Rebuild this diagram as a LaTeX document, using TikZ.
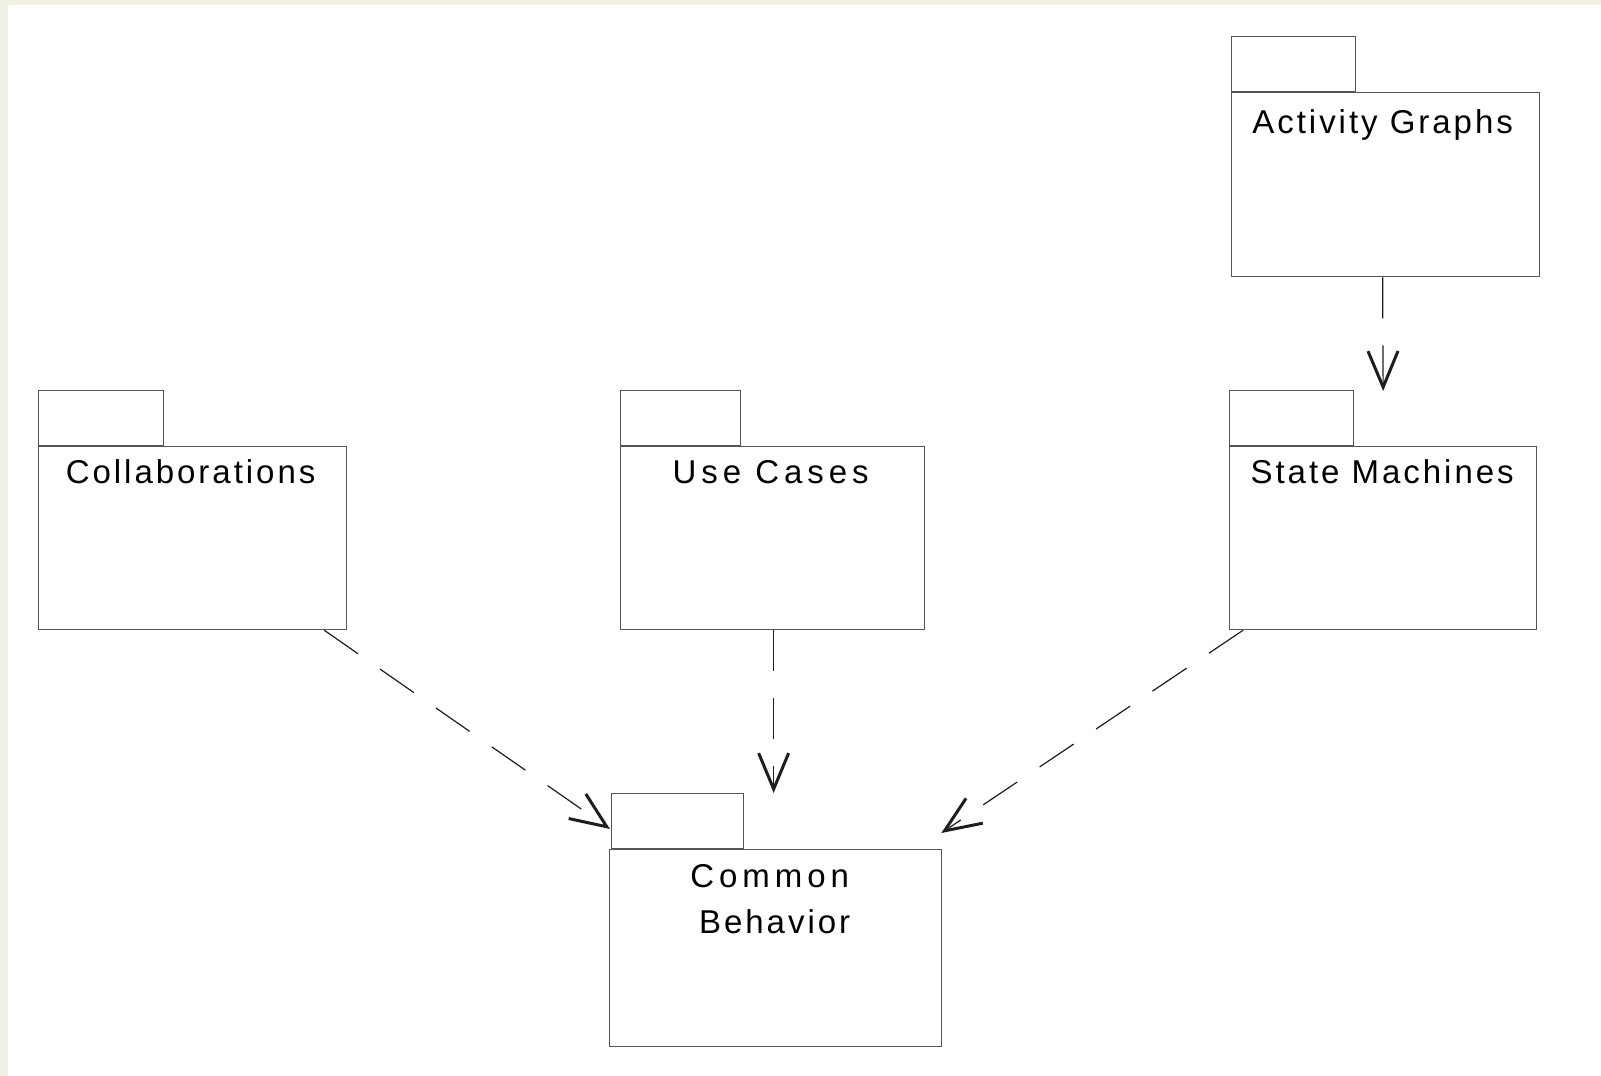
\documentclass[tikz,border=0pt]{standalone}
\usepackage{fontspec}
\setmainfont{Liberation Sans}
\usetikzlibrary{arrows.meta,calc}

\definecolor{pagebg}{RGB}{240,240,228}
\definecolor{boxline}{RGB}{85,85,85}
\definecolor{depline}{RGB}{30,30,30}

\tikzset{
  pkgbody/.style={draw=boxline, line width=1.3pt, fill=white, rectangle,
    anchor=north west, inner sep=0pt, minimum height=183pt},
  pkgtab/.style={draw=boxline, line width=1.3pt, fill=white, rectangle,
    anchor=south west, inner sep=0pt, minimum height=55pt},
  pkglabel/.style={anchor=base, inner sep=0pt,
    font=\fontsize{33}{46}\selectfont\addfontfeature{LetterSpace=9}},
  widelabel/.style={pkglabel,
    font=\fontsize{33}{46}\selectfont\addfontfeature{LetterSpace=15}},
  dependency/.style={draw=depline, line width=1.2pt,
    dash pattern=on 41pt off 27pt,
    -{Straight Barb[length=36pt,width=30pt,line width=3pt]}}
}

\begin{document}
\begin{tikzpicture}[x=1pt,y=-1pt]
  \useasboundingbox (0,0) rectangle (1601,1076);
  \fill[pagebg] (0,0) rectangle (1601,1076);
  \fill[white] (8,5) rectangle (1601,1076);

  % Package bodies
  \node[pkgbody, minimum width=308pt, minimum height=184pt] (act) at (1231,92) {};
  \node[pkgbody, minimum width=307pt] (sm)  at (1229,446) {};
  \node[pkgbody, minimum width=308pt] (col) at (38,446) {};
  \node[pkgbody, minimum width=304pt] (uc)  at (620,446) {};
  \node[pkgbody, minimum width=332pt, minimum height=197pt] (cb) at (609,849) {};

  % Package tabs
  \node[pkgtab, minimum width=124pt] (actTab) at (act.north west) {};
  \node[pkgtab, minimum width=124pt] (smTab)  at (sm.north west) {};
  \node[pkgtab, minimum width=125pt] (colTab) at (col.north west) {};
  \node[pkgtab, minimum width=120pt] (ucTab)  at (uc.north west) {};
  \node[pkgtab, minimum width=132pt] (cbTab)  at ($(cb.north west)+(2,0)$) {};

  % Package names
  \node[pkglabel] (actName) at ($(act.north)+(-3,41)$) {Activity Graphs};
  \node[pkglabel] (smName)  at ($(sm.north)+(-1,37)$) {State Machines};
  \node[pkglabel] (colName) at ($(col.north)+(-2,37)$) {Collaborations};
  \node[widelabel] (ucName) at ($(uc.north)+(-2,37)$) {Use Cases};
  \node[widelabel] (cbName) at ($(cb.north)+(-6,38)$) {Common};
  \node[pkglabel] (cbName2) at ($(cb.north)+(-1,84)$) {Behavior};

  % Dependencies
  \draw[dependency] ($(act.south)+(-3,0)$) -- ($(sm.north)+(0,-55)$);
  \draw[dependency] ($(col.south east)+(-23,0)$) -- ($(cbTab.south west)+(-1,-20)$);
  \draw[dependency] ($(uc.south)+(1,0)$) -- ($(cb.north)+(-2,-56)$);
  \draw[dependency] ($(sm.south west)+(14,0)$) -- ($(cb.north east)+(-1,-16)$);
\end{tikzpicture}
\end{document}
